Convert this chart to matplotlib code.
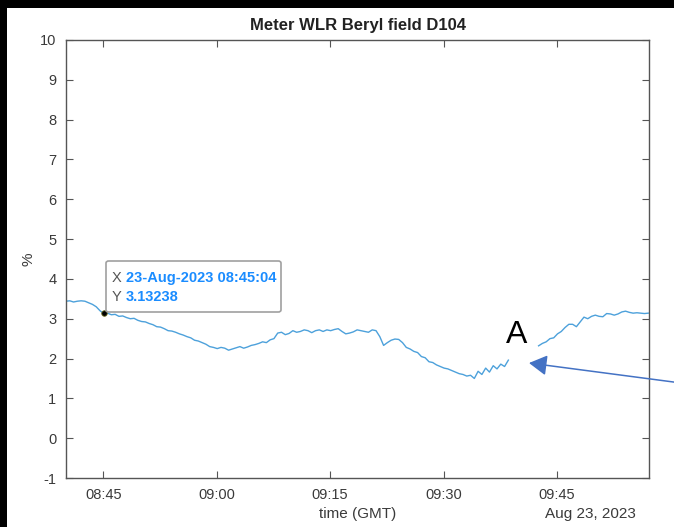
import numpy as np
import pandas as pd
import matplotlib
matplotlib.use("Agg")
import matplotlib.pyplot as plt
import matplotlib.dates as mdates
from matplotlib.patches import Rectangle, FancyBboxPatch

plt.rcParams['font.family'] = ['Liberation Sans', 'DejaVu Sans']
plt.rcParams['axes.unicode_minus'] = False

# WLR readings, one sample every 30 s, split where the meter dropped out
t1_start = "2023-08-23 08:40:04"
wlr1 = [3.44, 3.45, 3.42, 3.44, 3.45, 3.44, 3.40, 3.36, 3.30, 3.20,
        3.13238, 3.14, 3.10, 3.11, 3.06, 3.07, 3.03, 3.00, 3.01, 2.96,
        2.93, 2.92, 2.88, 2.85, 2.80, 2.79, 2.75, 2.70, 2.69, 2.66,
        2.62, 2.59, 2.55, 2.52, 2.46, 2.44, 2.40, 2.36, 2.30, 2.28,
        2.25, 2.28, 2.26, 2.21, 2.24, 2.27, 2.30, 2.26, 2.29, 2.33,
        2.35, 2.38, 2.42, 2.40, 2.47, 2.50, 2.64, 2.66, 2.60, 2.63,
        2.70, 2.66, 2.68, 2.72, 2.70, 2.65, 2.70, 2.72, 2.68, 2.72,
        2.70, 2.73, 2.75, 2.68, 2.62, 2.64, 2.67, 2.72, 2.70, 2.68,
        2.66, 2.72, 2.70, 2.55, 2.33, 2.40, 2.46, 2.49, 2.48, 2.40,
        2.28, 2.24, 2.18, 2.15, 2.05, 2.02, 1.92, 1.90, 1.84, 1.80,
        1.76, 1.74, 1.70, 1.66, 1.62, 1.60, 1.56, 1.58, 1.50, 1.68,
        1.60, 1.76, 1.66, 1.82, 1.74, 1.86, 1.80, 1.96]
t2_start = "2023-08-23 09:42:34"
wlr2 = [2.32, 2.38, 2.42, 2.50, 2.52, 2.62, 2.68, 2.78, 2.86, 2.86,
        2.80, 2.92, 3.04, 3.00, 3.06, 3.09, 3.06, 3.05, 3.13, 3.12,
        3.09, 3.12, 3.17, 3.19, 3.16, 3.14, 3.15, 3.14, 3.13, 3.14]

yticks = list(range(-1, 11))
xticks = ["08:45", "09:00", "09:15", "09:30", "09:45"]

t1 = pd.date_range(t1_start, periods=len(wlr1), freq="30s")
t2 = pd.date_range(t2_start, periods=len(wlr2), freq="30s")

fig = plt.figure(figsize=(6.74, 5.27), dpi=100)
ax = fig.add_axes([66/674, 1 - 478/527, 583/674, 438/527])

line_col = "#4da1db"
ax.plot(t1, wlr1, color=line_col, lw=1.0)
ax.plot(t2, wlr2, color=line_col, lw=1.0)

ax.set_xlim(pd.Timestamp("2023-08-23 08:40:04"), pd.Timestamp("2023-08-23 09:57:10"))
ax.set_ylim(-1, 10)
ax.set_yticks(yticks)
ax.set_xticks([pd.Timestamp("2023-08-23 " + s) for s in xticks])
ax.xaxis.set_major_formatter(mdates.DateFormatter("%H:%M"))

axcol = "#555555"
for sp in ax.spines.values():
    sp.set_color(axcol)
    sp.set_linewidth(1.0)
ax.tick_params(direction="in", length=5, width=0.8, color=axcol,
               labelcolor="#3a3a3a", labelsize=10.5,
               top=True, right=True, pad=7)

ax.set_title("Meter WLR Beryl field D104", fontsize=12, fontweight="bold",
             color="#222222", pad=7)
ax.set_xlabel("time (GMT)", fontsize=11, color="#3a3a3a", labelpad=4)
ax.set_ylabel("%", fontsize=11, color="#3a3a3a", labelpad=3)
fig.text(636/674, 1 - 514/527, "Aug 23, 2023", ha="right", va="center",
         fontsize=11, color="#3a3a3a")

# data tip on the first point of interest
tip_t = t1[10]
tip_v = wlr1[10]
ax.plot([tip_t], [tip_v], "o", ms=4, mfc="black", mec="#6b6b20", mew=0.6, zorder=5)
box = FancyBboxPatch((106/674, 1 - 312/527), 175/674, 51/527,
                     boxstyle="round,pad=0,rounding_size=0.004",
                     transform=fig.transFigure, facecolor="white",
                     edgecolor="#a0a0a0", lw=1.2, zorder=4)
fig.patches.append(box)
tip_font = dict(fontsize=10.5, va="center", zorder=6)
fig.text(112/674, 1 - 278/527, "X", color="#555555", **tip_font)
fig.text(126/674, 1 - 278/527, "23-Aug-2023 08:45:04", color="#1a8cff",
         fontweight="bold", **tip_font)
fig.text(112/674, 1 - 297/527, "Y", color="#555555", **tip_font)
fig.text(126/674, 1 - 297/527, f"{tip_v:.5f}", color="#1a8cff",
         fontweight="bold", **tip_font)

# marker for the gap
fig.text(517/674, 1 - 335/527, "A", fontsize=23, color="black",
         ha="center", va="center")
ax.annotate("", xy=(529, 527 - 363), xycoords="figure pixels",
            xytext=(700, 527 - 385.5), textcoords="figure pixels",
            arrowprops=dict(arrowstyle="-|>,head_length=0.42,head_width=0.24",
                            mutation_scale=26, color="#4472c4", lw=1.1,
                            shrinkA=0, shrinkB=0),
            annotation_clip=False)

# black frame strips along the top and left edges
fig.patches.append(Rectangle((0, 1 - 8/527), 1, 8/527, transform=fig.transFigure,
                             facecolor="black", edgecolor="none", zorder=10))
fig.patches.append(Rectangle((0, 0), 7/674, 1, transform=fig.transFigure,
                             facecolor="black", edgecolor="none", zorder=10))

fig.savefig("out.png", dpi=100)
